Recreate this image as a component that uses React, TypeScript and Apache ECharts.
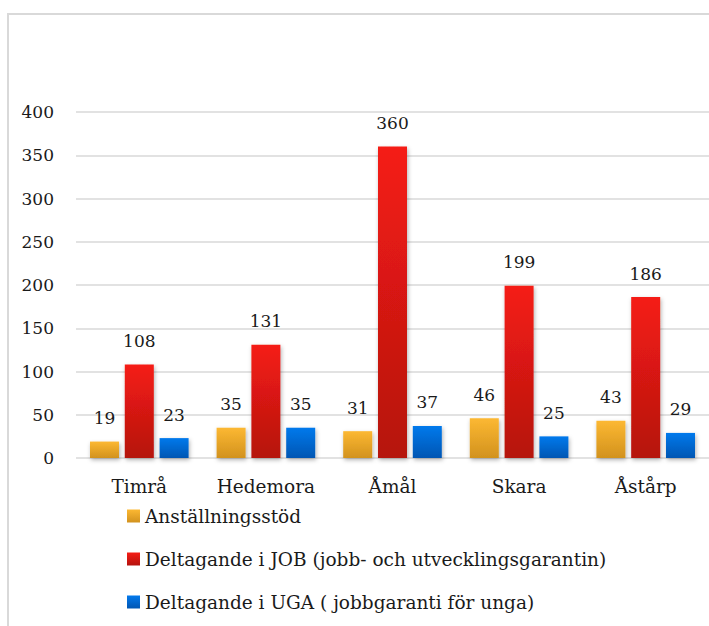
import React, { useEffect, useRef } from "react";
import * as echarts from "echarts";

const categories = ["Timrå", "Hedemora", "Åmål", "Skara", "Åstårp"];
const seriesNames = [
  "Anställningsstöd",
  "Deltagande i JOB (jobb- och utvecklingsgarantin)",
  "Deltagande i UGA ( jobbgaranti för unga)",
];
const anstallningsstod = [19, 35, 31, 46, 43];
const deltagandeJob = [108, 131, 360, 199, 186];
const deltagandeUga = [23, 35, 37, 25, 29];
const yTicks = { min: 0, max: 400, interval: 50 };

const FONT = "DejaVu Serif";

function grad(top: string, bottom: string) {
  return new echarts.graphic.LinearGradient(0, 0, 0, 1, [
    { offset: 0, color: top },
    { offset: 1, color: bottom },
  ]);
}

export default function App() {
  const ref = useRef<HTMLDivElement>(null);
  useEffect(() => {
    if (!ref.current) return;
    const chart = echarts.init(ref.current, undefined, { renderer: "svg" });
    const colors = [
      grad("#fcb832", "#d2921e"),
      grad("#f51d15", "#b5130e"),
      grad("#0379ec", "#0056b3"),
    ];
    const data = [anstallningsstod, deltagandeJob, deltagandeUga];
    chart.setOption({
      animation: false,
      backgroundColor: "#ffffff",
      textStyle: { fontFamily: FONT },
      graphic: [
        {
          type: "rect",
          shape: { x: 8, y: 14, width: 740, height: 660 },
          style: { fill: "none", stroke: "#d9d9d9", lineWidth: 2 },
          silent: true,
        },
      ],
      grid: { left: 76, right: -7, top: 112, bottom: 168, containLabel: false },
      legend: {
        orient: "vertical",
        left: 127,
        top: 505,
        padding: 0,
        itemWidth: 13,
        itemHeight: 13,
        itemGap: 21,
        icon: "rect",
        data: seriesNames,
        textStyle: { fontFamily: FONT, fontSize: 18.5, lineHeight: 22, color: "#1a1a1a" },
      },
      xAxis: {
        type: "category",
        data: categories,
        axisLine: { show: false },
        axisTick: { show: false },
        axisLabel: {
          interval: 0,
          fontFamily: FONT,
          fontSize: 18.5,
          color: "#1a1a1a",
          margin: 19,
        },
      },
      yAxis: {
        type: "value",
        min: yTicks.min,
        max: yTicks.max,
        interval: yTicks.interval,
        axisLine: { show: false },
        axisTick: { show: false },
        axisLabel: { fontFamily: FONT, fontSize: 17, color: "#1a1a1a", margin: 22 },
        splitLine: { lineStyle: { color: "#d9d9d9", width: 1.5 } },
      },
      series: seriesNames.map((name, i) => ({
        name,
        type: "bar",
        data: data[i],
        barWidth: 29,
        barGap: "20%",
        itemStyle: {
          color: colors[i],
          shadowBlur: 4,
          shadowColor: "rgba(0,0,0,0.3)",
          shadowOffsetX: 1,
          shadowOffsetY: 2,
        },
        label: {
          show: true,
          position: "top",
          distance: 15,
          fontFamily: FONT,
          fontSize: 17,
          color: "#1a1a1a",
        },
      })),
    });
    return () => chart.dispose();
  }, []);
  return (
    <div
      ref={ref}
      style={{ position: "fixed", left: 0, top: 0, width: 709, height: 626 }}
    />
  );
}
